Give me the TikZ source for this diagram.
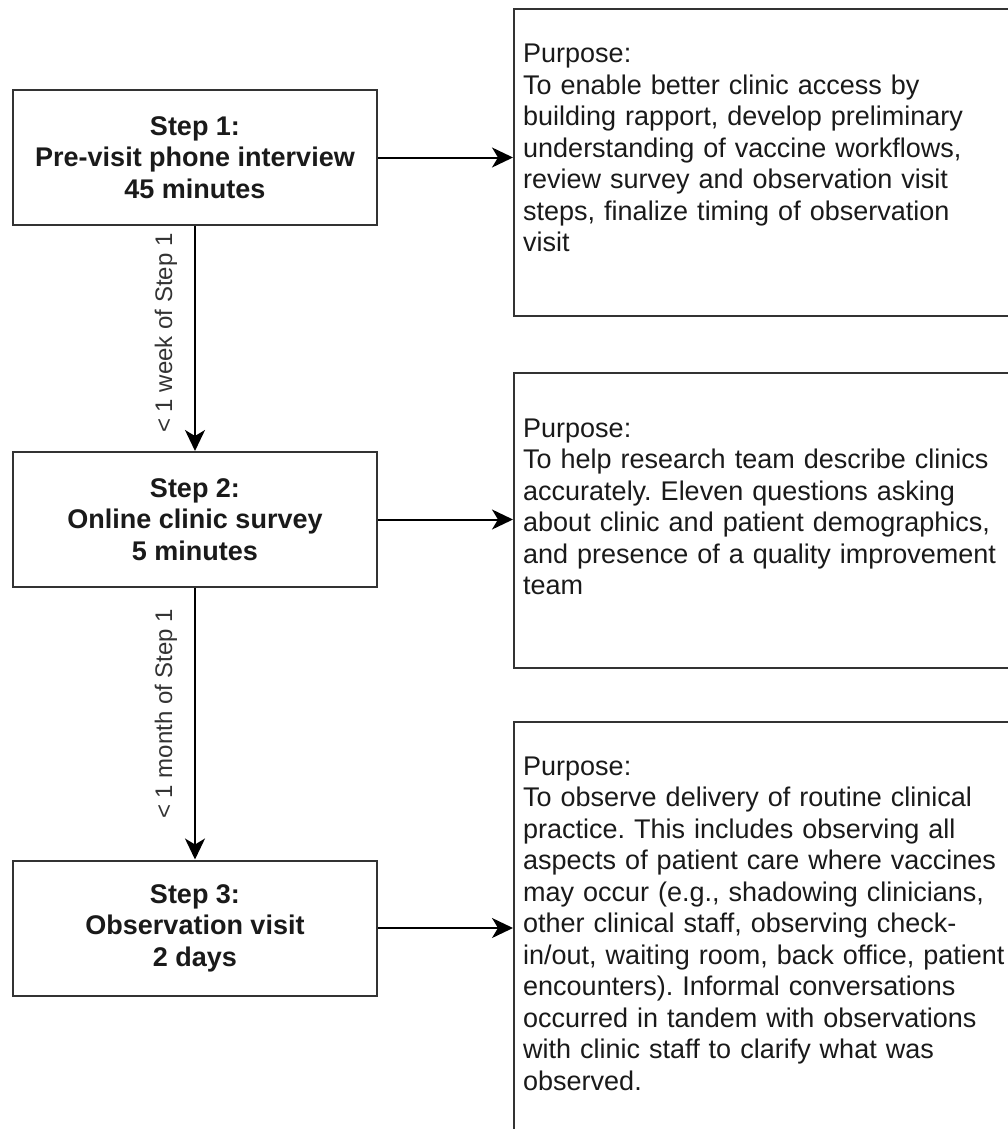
\documentclass[tikz,border=0pt]{standalone}
\usepackage{fontspec}
\setmainfont{Liberation Sans}
\usetikzlibrary{arrows.meta,calc}
\definecolor{ln}{HTML}{333333}
\definecolor{tx}{HTML}{1A1A1A}
\frenchspacing
\begin{document}
\begin{tikzpicture}[x=1pt,y=-1pt,
  stepbox/.style={draw=ln, line width=2pt, minimum width=364pt, minimum height=135pt,
    align=center, font=\fontsize{27}{31.5}\selectfont\bfseries, text=tx, inner sep=0pt},
  pbox/.style={draw=ln, line width=2pt, anchor=north west, inner sep=0pt},
  ptext/.style={anchor=base west, text width=495pt, align=left,
    font=\fontsize{27}{31.5}\selectfont\frenchspacing, text=tx, inner sep=0pt},
  arr/.style={draw=black, line width=2pt, -{Stealth[length=21pt,width=20pt,inset=6pt]}},
  lab/.style={font=\fontsize{24}{28}\selectfont, text=ln, rotate=90, anchor=base, inner sep=0pt}]

\useasboundingbox (0,0) rectangle (1008,1129);
\fill[white] (0,0) rectangle (1008,1129);
\clip (0,0) rectangle (1008,1129);

% step boxes
\node[stepbox] (s1) at (195,157.5) {Step 1:\\Pre-visit phone interview\\45 minutes};
\node[stepbox] (s2) at (195,519.5) {Step 2:\\Online clinic survey\\5 minutes};
\node[stepbox] (s3) at (195,928) {Step 3:\\Observation visit\\2 days};

% purpose boxes
\node[pbox, minimum width=510pt, minimum height=307pt] (p1) at (513,8) {};
\node[pbox, minimum width=510pt, minimum height=295pt] (p2) at (513,372) {};
\node[pbox, minimum width=510pt, minimum height=430pt] (p3) at (513,721) {};

% purpose texts
\node[ptext] (t1) at (523,63) {Purpose:\\
To enable better clinic access by\\
building rapport, develop preliminary\\
understanding of vaccine workflows,\\
review survey and observation visit\\
steps, finalize timing of observation\\
visit};
\node[ptext] (t2) at (523,437) {Purpose:\\
To help research team describe clinics\\
accurately. Eleven questions asking\\
about clinic and patient demographics,\\
and presence of a quality improvement\\
team};
\node[ptext] (t3) at (523,775) {Purpose:\\
To observe delivery of routine clinical\\
practice. This includes observing all\\
aspects of patient care where vaccines\\
may occur (e.g., shadowing clinicians,\\
other clinical staff, observing check-\\
in/out, waiting room, back office, patient\\
encounters). Informal conversations\\
occurred in tandem with observations\\
with clinic staff to clarify what was\\
observed.};

% horizontal connectors
\draw[arr] (s1.east) -- (s1.east -| p1.west);
\draw[arr] (s2.east) -- (s2.east -| p2.west);
\draw[arr] (s3.east) -- (s3.east -| p3.west);

% vertical connectors
\draw[arr] (s1.south) -- (s2.north);
\draw[arr] (s2.south) -- (s3.north);
\node[lab] (l1) at ($(s1.south)!0.5!(s2.north)+(-23,-5.5)$) {< 1 week of Step 1};
\node[lab] (l2) at ($(s2.south)!0.5!(s3.north)+(-23,-10)$) {< 1 month of Step 1};
\end{tikzpicture}
\end{document}
